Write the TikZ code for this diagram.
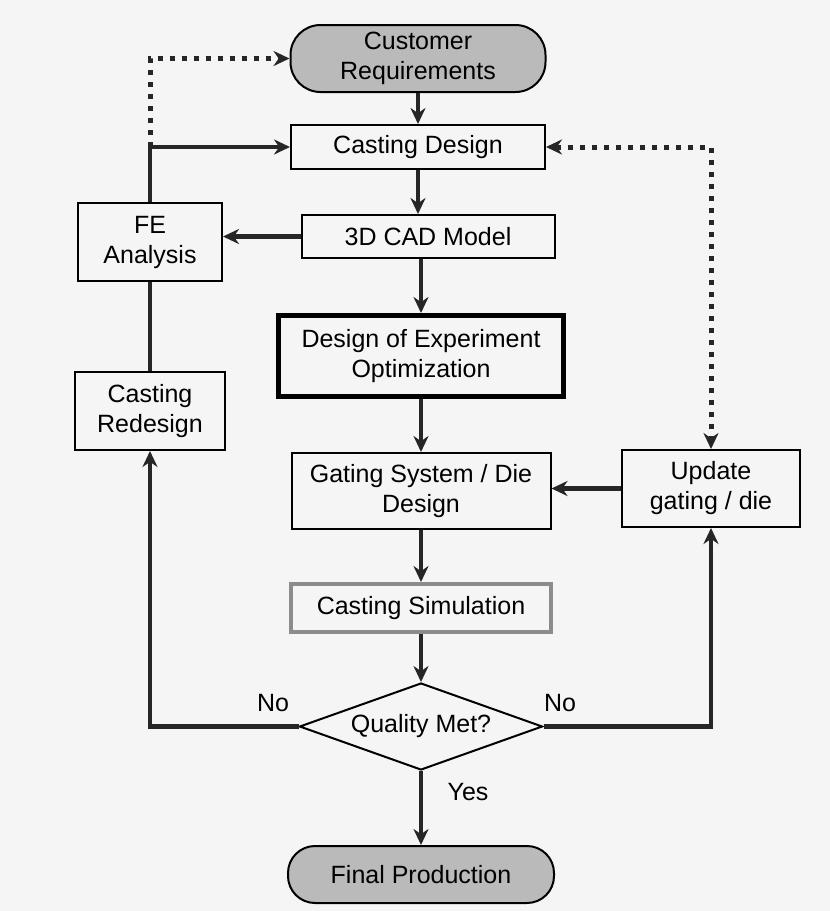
\documentclass[tikz,border=0pt]{standalone}
\usepackage{fontspec}
\setmainfont{Liberation Sans}
\usetikzlibrary{shapes,shapes.geometric,arrows.meta}

\begin{document}
\begin{tikzpicture}[x=1pt,y=-1pt,
		font=\fontsize{25}{30}\selectfont,
		>={Stealth[length=16pt,width=15pt]},
		blk/.style={draw=black,line width=2pt,align=center,inner sep=0pt},
		term/.style={blk,rounded corners=30pt,fill=black!27},
		flow/.style={->,line width=4.5pt,draw=black!85},
		dotflow/.style={->,line width=5pt,draw=black!85,dash pattern=on 5pt off 7pt}]
		\def\cx{421}
		\def\lx{150}
		\fill[black!4] (0,0) rectangle (830,911);
		\useasboundingbox (0,0) rectangle (830,911);
		% main column
		\node[term,minimum width=255pt,minimum height=67pt] (cust) at (418,58.5) {Customer\\Requirements};
		\node[blk,minimum width=254pt,minimum height=44pt] (design) at (418,147) {Casting Design};
		\node[blk,minimum width=253pt,minimum height=43pt] (cad) at (428,236.5) {3D CAD Model};
		\node[blk,line width=5pt,minimum width=285pt,minimum height=81pt] (doe) at (\cx,356) {Design of Experiment\\Optimization};
		\node[blk,minimum width=259pt,minimum height=76pt] (gating) at (\cx,491) {Gating System / Die\\Design};
		\node[blk,draw=black!45,line width=4pt,minimum width=260pt,minimum height=48pt] (sim) at (\cx,608) {Casting Simulation};
		\node[blk,diamond,aspect=2.8,minimum width=243pt,minimum height=87pt] (quality) at (\cx,726.5) {Quality Met?};
		\node[term,minimum width=266pt,minimum height=57pt,rounded corners=27pt] (final) at (\cx,874.5) {Final Production};
		% side boxes
		\node[blk,minimum width=144pt,minimum height=78pt] (fe) at (\lx,242) {FE\\Analysis};
		\node[blk,minimum width=150pt,minimum height=78pt] (redesign) at (\lx,411) {Casting\\Redesign};
		\node[blk,minimum width=178pt,minimum height=77pt] (update) at (711,488.5) {Update\\gating / die};
		% labels
		\node (nol) at (273,703) {No};
		\node (nor) at (560,703) {No};
		\node (yes) at (468,792) {Yes};
		% arrows
		\draw[flow] (cust.south) -- (design.north);
		\draw[flow] (design.south) -- (design.south |- cad.north);
		\draw[flow] (cad.west) -- (cad.west -| fe.east);
		\draw[flow] (doe.north |- cad.south) -- (doe.north);
		\draw[flow] (doe.south) -- (gating.north);
		\draw[flow] (gating.south) -- (sim.north);
		\draw[flow] (sim.south) -- (quality.north);
		\draw[flow] (quality.south) -- (final.north);
		\draw[flow] (quality.west) -| (redesign.south);
		\draw[flow] (quality.east) -| (update.south);
		\draw[flow] (update.west) -- (update.west -| gating.east);
		\draw[line width=4.5pt,draw=black!85] (redesign.north) -- (fe.south);
		\draw[flow] (fe.north) |- (design.west);
		\coordinate (fejoin) at (fe.north |- design.west);
		%\draw[dotflow] (fe.north) |- (cust.west);
		\draw[dotflow] (fejoin) |- (cust.west);
		\draw[dotflow,<->] (design.east) -| (update.north);
\end{tikzpicture}
\end{document}
